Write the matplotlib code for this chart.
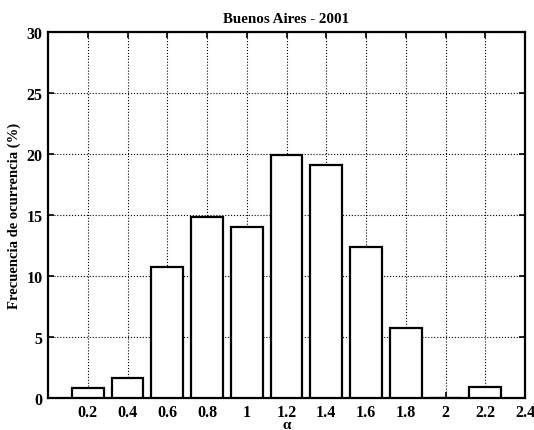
import matplotlib
matplotlib.use('agg')
import matplotlib.pyplot as plt
import numpy as np

# alpha classes and occurrence frequency (%)
alpha = [0.2, 0.4, 0.6, 0.8, 1.0, 1.2, 1.4, 1.6, 1.8, 2.0, 2.2]
freq = [0.8, 1.6, 10.75, 14.85, 14.05, 19.9, 19.07, 12.38, 5.77, 0.0, 0.87]
xticks = [0.2, 0.4, 0.6, 0.8, 1, 1.2, 1.4, 1.6, 1.8, 2, 2.2, 2.4]
xticklabels = ['0.2', '0.4', '0.6', '0.8', '1', '1.2', '1.4', '1.6', '1.8', '2', '2.2', '2.4']
yticks = [0, 5, 10, 15, 20, 25, 30]

plt.rcParams['font.family'] = ['Liberation Serif', 'DejaVu Serif']

fig = plt.figure(figsize=(5.34, 4.31), dpi=100)
ax = fig.add_axes([0.0899, 0.0742, 0.8933, 0.8492])

ax.bar(alpha, freq, width=0.16, color='white', edgecolor='black', linewidth=1.6, zorder=3)

ax.set_xlim(0, 2.4)
ax.set_ylim(0, 30)
ax.set_xticks(xticks)
ax.set_xticklabels(xticklabels, fontsize=11.5, fontweight='bold')
ax.set_yticks(yticks)
ax.set_yticklabels([str(v) for v in yticks], fontsize=11.5, fontweight='bold')
ax.tick_params(direction='in', length=4, width=1.2, top=True, right=True, pad=4)

ax.grid(True, color='black', linestyle=':', linewidth=0.8, zorder=0)
for s in ax.spines.values():
    s.set_linewidth(1.6)

ax.set_title('Buenos Aires - 2001', fontsize=10.8, fontweight='bold', pad=7)
ax.set_ylabel('Frecuencia de ocurrencia (%)', fontsize=10.5, fontweight='bold', labelpad=4)
ax.set_xlabel('α', fontsize=11, fontweight='bold', labelpad=-1)

plt.savefig('out.png', dpi=100)
